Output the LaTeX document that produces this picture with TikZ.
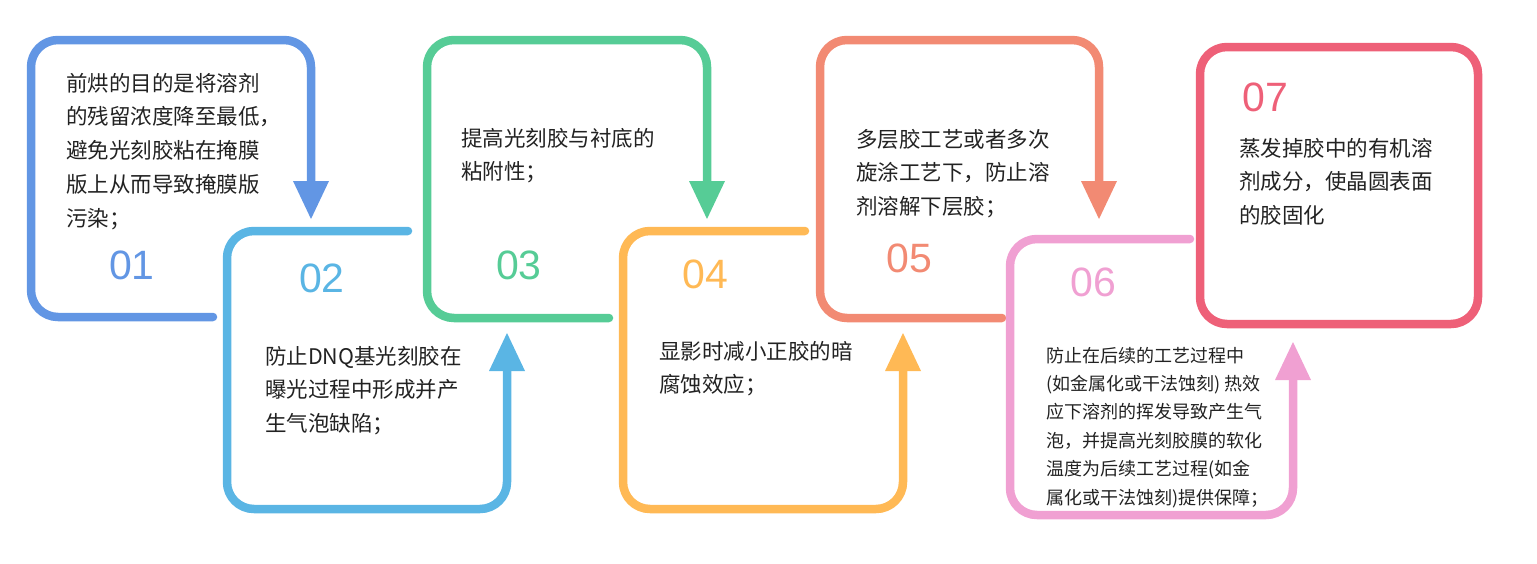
\documentclass[tikz,border=0pt]{standalone}
\usepackage{fontspec}
\newfontfamily\cjk{Noto Sans CJK SC}
\newfontfamily\numfont{Liberation Sans}
\usetikzlibrary{arrows.meta}
\definecolor{cA}{HTML}{6296E4}
\definecolor{cB}{HTML}{5AB5E4}
\definecolor{cC}{HTML}{56CC96}
\definecolor{cD}{HTML}{FFB955}
\definecolor{cE}{HTML}{F28A73}
\definecolor{cF}{HTML}{F0A0D2}
\definecolor{cG}{HTML}{EE6078}
\definecolor{txt}{HTML}{222222}
\tikzset{
  loop/.style={line width=8.5pt, rounded corners=27pt, line cap=round, line join=round},
  flow/.style={loop, -{Triangle[width=36pt,length=38pt,line width=0pt,sharp]}},
  num/.style={inner sep=0pt, anchor=center, font=\numfont\fontsize{41}{41}\selectfont},
  desc/.style={inner sep=0pt, anchor=base west, text=txt},
}
\newcommand{\bigtext}[1]{{\cjk\fontsize{21.5}{33.8}\selectfont\vtop{#1}}}
\newcommand{\smalltext}[1]{{\cjk\fontsize{18}{28.4}\selectfont\vtop{#1}}}
\begin{document}
\begin{tikzpicture}[x=1pt,y=-1pt]
\useasboundingbox (0,0) rectangle (1537,563);
% coordinates
\coordinate (a1) at (213,317); \coordinate (a2) at (31,317); \coordinate (a3) at (31,40); \coordinate (a4) at (311,40); \coordinate (a5) at (311,219);
\coordinate (b1) at (408,231); \coordinate (b2) at (227,231); \coordinate (b3) at (227,509); \coordinate (b4) at (507,509); \coordinate (b5) at (507,333);
\coordinate (c1) at (609,318); \coordinate (c2) at (427,318); \coordinate (c3) at (427,40); \coordinate (c4) at (707,40); \coordinate (c5) at (707,219);
\coordinate (d1) at (805,231); \coordinate (d2) at (623,231); \coordinate (d3) at (623,509); \coordinate (d4) at (903,509); \coordinate (d5) at (903,333);
\coordinate (e1) at (1002,318); \coordinate (e2) at (820,318); \coordinate (e3) at (820,40); \coordinate (e4) at (1099,40); \coordinate (e5) at (1099,219);
\coordinate (f1) at (1190,239); \coordinate (f2) at (1010,239); \coordinate (f3) at (1010,515); \coordinate (f4) at (1293,515); \coordinate (f5) at (1293,342);
\coordinate (g1) at (1200,47); \coordinate (g2) at (1478,324);
% loops
\draw[flow, cA] (a1) -- (a2) -- (a3) -- (a4) -- (a5);
\draw[flow, cB] (b1) -- (b2) -- (b3) -- (b4) -- (b5);
\draw[flow, cC] (c1) -- (c2) -- (c3) -- (c4) -- (c5);
\draw[flow, cD] (d1) -- (d2) -- (d3) -- (d4) -- (d5);
\draw[flow, cE] (e1) -- (e2) -- (e3) -- (e4) -- (e5);
\draw[flow, cF] (f1) -- (f2) -- (f3) -- (f4) -- (f5);
\draw[loop, cG] (g1) rectangle (g2);
% numbers
\node[num, text=cA] (n1) at (132,265) {01};
\node[num, text=cB] (n2) at (322,278) {02};
\node[num, text=cC] (n3) at (519,265) {03};
\node[num, text=cD] (n4) at (705,274) {04};
\node[num, text=cE] (n5) at (909,258) {05};
\node[num, text=cF] (n6) at (1093,282) {06};
\node[num, text=cG] (n7) at (1265,97) {07};
% texts
\node[desc] (t1) at (66,91) {\bigtext{\hbox{前烘的目的是将溶剂}\hbox{的残留浓度降至最低，}\hbox{避免光刻胶粘在掩膜}\hbox{版上从而导致掩膜版}\hbox{污染；}}};
\node[desc] (t2) at (265,364) {\bigtext{\hbox{防止DNQ基光刻胶在}\hbox{曝光过程中形成并产}\hbox{生气泡缺陷；}}};
\node[desc] (t3) at (461,146) {\bigtext{\hbox{提高光刻胶与衬底的}\hbox{粘附性；}}};
\node[desc] (t4) at (659,359) {\bigtext{\hbox{显影时减小正胶的暗}\hbox{腐蚀效应；}}};
\node[desc] (t5) at (856,147) {\bigtext{\hbox{多层胶工艺或者多次}\hbox{旋涂工艺下，防止溶}\hbox{剂溶解下层胶；}}};
\node[desc] (t6) at (1046,362) {\smalltext{\hbox{防止在后续的工艺过程中}\hbox{(如金属化或干法蚀刻) 热效}\hbox{应下溶剂的挥发导致产生气}\hbox{泡，并提高光刻胶膜的软化}\hbox{温度为后续工艺过程(如金}\hbox{属化或干法蚀刻)提供保障；}}};
\node[desc] (t7) at (1239,156) {\bigtext{\hbox{蒸发掉胶中的有机溶}\hbox{剂成分，使晶圆表面}\hbox{的胶固化}}};
\end{tikzpicture}
\end{document}
